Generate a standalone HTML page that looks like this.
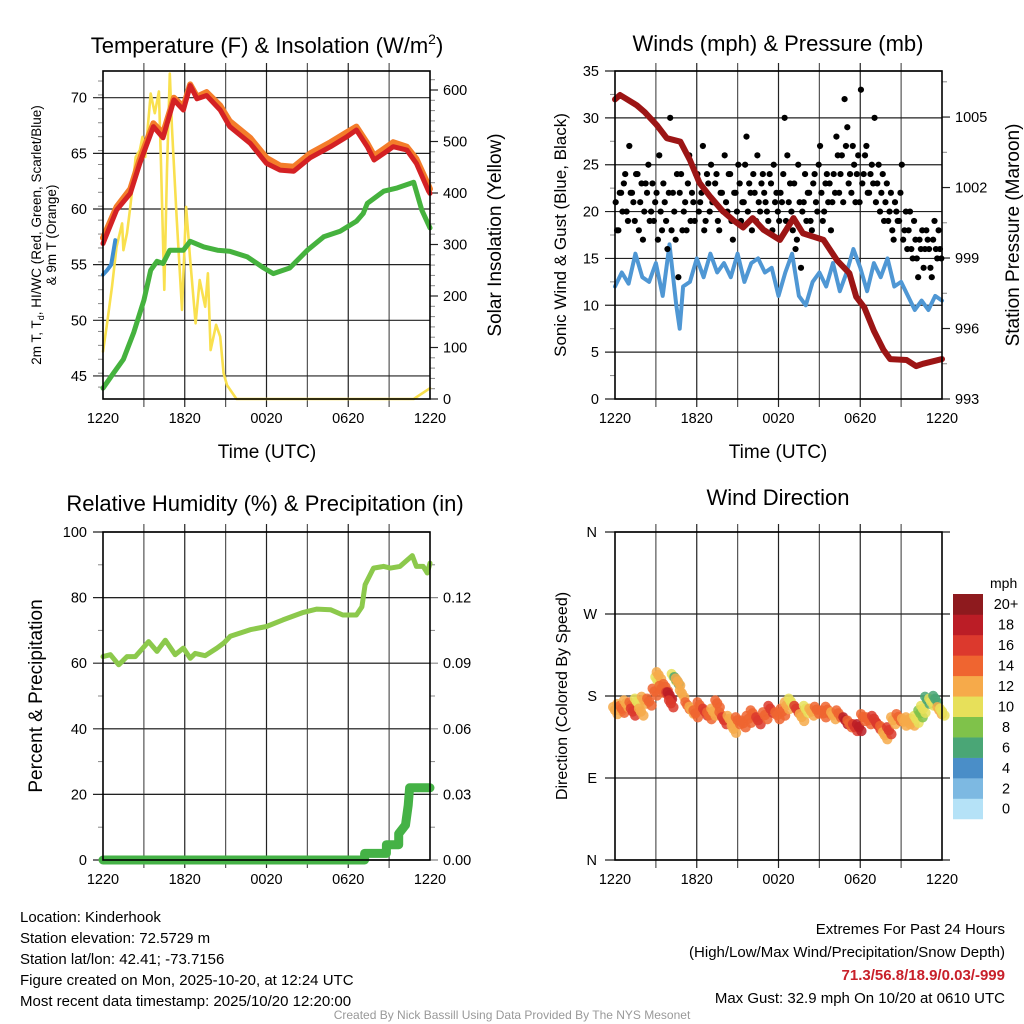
<!DOCTYPE html>
<html><head><meta charset="utf-8"><style>
html,body{margin:0;padding:0;background:#fff}
svg{display:block;font-family:"Liberation Sans",sans-serif}
</style></head><body>
<svg id="chart" width="1024" height="1024" viewBox="0 0 1024 1024">
<g id="g"></g>
<text x="267" y="53" font-size="22" text-anchor="middle">Temperature (F) &amp; Insolation (W/m<tspan font-size="14" dy="-9">2</tspan><tspan dy="9">)</tspan></text>
<text x="778" y="51" font-size="22" text-anchor="middle">Winds (mph) &amp; Pressure (mb)</text>
<text x="265" y="511" font-size="22" text-anchor="middle">Relative Humidity (%) &amp; Precipitation (in)</text>
<text x="778" y="505" font-size="22" text-anchor="middle">Wind Direction</text>
<text x="267" y="458" font-size="19" text-anchor="middle">Time (UTC)</text>
<text x="778" y="458" font-size="19" text-anchor="middle">Time (UTC)</text>
<text font-size="13.5" text-anchor="middle" transform="translate(41,235) rotate(-90)">2m T, T<tspan font-size="9" dy="3">d</tspan><tspan dy="-3">, HI/WC (Red, Green, Scarlet/Blue)</tspan></text>
<text font-size="13.5" text-anchor="middle" transform="translate(56,235) rotate(-90)">&amp; 9m T (Orange)</text>
<text font-size="19" text-anchor="middle" transform="translate(501,235) rotate(-90)">Solar Insolation (Yellow)</text>
<text font-size="17" text-anchor="middle" transform="translate(566,235) rotate(-90)">Sonic Wind &amp; Gust (Blue, Black)</text>
<text font-size="19" text-anchor="middle" transform="translate(1019,235) rotate(-90)">Station Pressure (Maroon)</text>
<text font-size="19" text-anchor="middle" transform="translate(42,696) rotate(-90)">Percent &amp; Precipitation</text>
<text font-size="16" text-anchor="middle" transform="translate(567,696) rotate(-90)">Direction (Colored By Speed)</text>
<text x="990" y="588" font-size="14">mph</text>
<g font-size="15">
<text x="20" y="922">Location: Kinderhook</text>
<text x="20" y="943">Station elevation: 72.5729 m</text>
<text x="20" y="964">Station lat/lon: 42.41; -73.7156</text>
<text x="20" y="985">Figure created on Mon, 2025-10-20, at 12:24 UTC</text>
<text x="20" y="1006">Most recent data timestamp: 2025/10/20 12:20:00</text>
</g>
<g font-size="15" text-anchor="end">
<text x="1005" y="934">Extremes For Past 24 Hours</text>
<text x="1005" y="957">(High/Low/Max Wind/Precipitation/Snow Depth)</text>
<text x="1005" y="980" fill="#c8202a" font-weight="bold">71.3/56.8/18.9/0.03/-999</text>
<text x="1005" y="1003">Max Gust: 32.9 mph On 10/20 at 0610 UTC</text>
</g>
<text x="512" y="1019" font-size="12" fill="#999" text-anchor="middle">Created By Nick Bassill Using Data Provided By The NYS Mesonet</text>
</svg>
<script>
// ---- data (t = hours since 1220 UTC) ----
const xTickLabels=["1220","1820","0020","0620","1220"];
const tempT=[0,1,2,2.7,3.7,4.4,5.2,5.9,6.4,6.9,7.6,8.6,9.3,10.8,12,13,14,15.2,16.7,17.9,18.6,19.4,19.9,20.6,21.3,22.3,23,23.9,24];
const tempV=[56.9,59.9,61.4,64.1,67.4,66.4,69.8,68.9,71.1,69.9,70.2,68.9,67.4,65.9,64.1,63.5,63.4,64.6,65.6,66.5,67.1,65.6,64.4,65.0,65.6,65.3,64.1,61.6,61.4];
const temp9V=[57.4,60.2,61.8,64.5,67.7,66.8,70.0,69.2,71.2,70.1,70.5,69.3,67.9,66.4,64.6,63.9,63.8,65.0,66.0,66.9,67.4,65.9,64.8,65.4,66.0,65.6,64.5,62.1,61.8];
const hiT=[0,0.3,0.6,0.9];
const hiV=[54.1,54.5,55.0,57.2];
const dewT=[0,0.8,1.5,2.25,3,3.5,3.96,4.4,4.9,5.9,6.4,7.4,8.4,9.3,10.6,11.8,12.5,13.7,15,16.2,17.4,18.6,19.1,19.4,20.6,21.6,22.8,23.4,24];
const dewV=[43.9,45.3,46.5,48.9,51.8,54.5,55.3,55.1,56.3,56.3,57.1,56.6,56.3,56.2,55.7,54.7,54.2,54.7,56.3,57.5,58.0,58.9,59.6,60.5,61.6,61.9,62.4,59.9,58.3];
const solT=[0,0.3,0.66,1,1.4,1.5,1.76,2,2.4,2.7,2.9,3.1,3.5,3.8,4.1,4.25,4.5,4.7,4.9,5.06,5.4,5.8,6.1,6.4,6.8,7.1,7.5,7.7,7.9,8.3,8.6,8.85,9.1,9.8,22.8,24];
const solV=[92,147,218,296,341,289,322,373,470,483,509,470,593,555,597,464,212,445,632,529,354,173,373,270,147,231,179,244,95,144,121,50,27,0,0,21];
const presT=[0,0.37,1.6,2.2,3.06,3.8,4.8,5.5,6.2,7,7.9,8.7,9.4,10.1,10.9,12.1,13.1,13.8,15.3,16.3,17.2,17.7,18.3,19,19.7,20.2,21.4,22.1,22.6,24];
const presV=[1005.75,1005.94,1005.5,1005.2,1004.66,1004.1,1003.95,1003.17,1002.2,1001.6,1001.0,1000.6,1000.3,1000.7,1000.2,999.77,1000.7,1000.05,999.77,998.9,998.35,997.35,996.9,995.9,995.1,994.7,994.66,994.4,994.5,994.7];
const windV=[12,13.5,12.3,15.5,13,12.5,14.5,11,16.5,10,7.5,12,12.5,15,13,15.5,13.5,14.5,13,15.5,12.5,14.5,15,13.5,14,11,13.5,15.5,11,10,12.5,13.5,12,14.5,11.5,13.5,16,14,11.5,14.5,13,15,12,12.5,11,9.5,10.5,9.5,11,10.5];
const windT=[0,0.5,1,1.5,2,2.5,3,3.5,4,4.5,4.75,5,5.5,6,6.5,7,7.5,8,8.5,9,9.5,10,10.5,11,11.5,12,12.5,13,13.5,14,14.5,15,15.5,16,16.5,17,17.5,18,18.5,19,19.5,20,20.5,21,21.5,22,22.5,23,23.5,24];
const gustV=[21,18,22,23,20,27,22,19,24,21,17,23,25,20,19,22,26,18,21,16,30,22,17,13,24,20,18,26,22,19,24,21,27,19,23,25,21,24,18,22,26,20,24,17,22,25,19,21,28,23,18,22,26,20,24,21,19,23,25,22,19,21,30,26,23,18,16,25,14,21,19,22,18,24,20,27,19,23,21,18,24,28,22,26,32,29,24,27,21,26,33,24,27,22,25,30,23,20,24,21,19,22,17,20,19,25,18,16,20,15,17,13,16,14,18,16,13,19,15,16];
const gustV2=[18,22,20,24,19,22,21,24,18,23,20,22,19,23,21,17,20,23,19,22,18,20,24,22,18,21,23,19,21,24,20,22,18,24,20,21,23,19,22,20,21,24,19,22,20,23,21,25,20,22,24,19,21,23,22,20,24,18,21,20,22,24,19,21,20,23,17,21,20,24,22,19,23,21,25,22,20,24,23,21,22,26,24,21,27,23,22,25,24,21,23,26,22,24,23,21,25,22,19,23,20,18,21,19,22,17,20,18,16,19,15,17,18,16,17,14,17,16,18,15];
const rhT=[0,0.54,1.15,1.76,2.37,3.35,3.96,4.57,5.3,5.9,6.4,6.77,7.5,8.36,8.85,9.34,10.8,12,13.2,14.7,15.7,16.7,17.6,18.6,19,19.24,19.85,20.6,21.1,21.8,22.7,23,23.5,23.8,24];
const rhV=[62,62.6,59.5,62,62,66.6,63.6,67,62.6,64.6,61.5,63,62.3,64.6,66.1,68.2,70.2,71.2,73.2,75.5,76.5,76.3,74.7,74.7,77.2,83.9,89,89.5,89,89.5,92.8,89.5,89.5,87.5,90.5];
const prT=[0,19.2,19.2,20.8,20.8,21.7,21.7,22.2,22.4,22.5,24];
const prV=[0,0,0.003,0.003,0.007,0.007,0.012,0.016,0.025,0.033,0.033];
const dirT=[0,0.3,0.5,0.8,1.2,1.3,1.6,1.9,2.1,2.5,2.9,3.1,3.2,3.4,3.7,3.9,4.0,4.1,4.3,4.5,4.6,4.9,5.3,5.6,5.9,6.2,6.6,6.9,7.2,7.5,7.8,8.0,8.4,8.7,9.0,9.4,9.8,10.1,10.5,11.0,11.4,11.9,12.3,12.6,12.9,13.3,13.7,14.0,14.4,14.8,15.3,15.6,16.0,16.4,16.9,17.2,17.6,17.9,18.2,18.6,19.0,19.3,19.6,19.8,20.1,20.4,20.8,21.2,21.5,21.8,22.1,22.4,22.6,22.9,23.2,23.5,23.8,24];
const dirV=[164.6,168,166,172,170,163,174,163,176,174,185,197.6,203,188,190,181,181,172,201,197.6,196,183,170,165,161,170,163,159,163,172,159,153.5,155,144,153.5,150,155,161,153.5,159,166,159,163,170,174,166,157,166,163,165,161,165,159,161,153.5,150,146,146,157,153.5,155,148,144,137,142.5,153.5,157,152,153.5,152,155,161,166,176,174,177,164.6,163];
const dirSpd=[12,12,14,13,15,16,11,12,12,14,14,11,12,15,14,16,18,16,10,7,12,12,14,13,15,14,16,14,13,14,14,16,12,13,14,15,14,15,16,14,16,14,15,13,10,17,13,10,12,14,14,15,12,15,18,15,17,18,14,15,16,16,14,12,16,12,14,12,13,12,10,9,10,7,10,7,13,11];
const cbLabels=["0","2","4","6","8","10","12","14","16","18","20+"];
const cbColors=["#b5e2f7","#7db9e2","#4a8ec8","#4aa676","#7fc24a","#e7e05a","#f6aa4a","#ef6530","#dc392d","#bb1d26","#8e1a1e"];

// ---- rendering ----
const NS="http://www.w3.org/2000/svg", G=document.getElementById('g');
function el(tag,at,parent){const e=document.createElementNS(NS,tag);for(const k in at)e.setAttribute(k,at[k]);(parent||G).appendChild(e);return e;}
function txt(s,x,y,anchor,size){const e=el('text',{x:x,y:y,'text-anchor':anchor,'font-size':size});e.textContent=s;return e;}
function panel(x0,x1,y0,y1,lmin,lmax,rmin,rmax){
  return {x0,x1,y0,y1,X:t=>x0+(x1-x0)*t/24,L:v=>y1-(y1-y0)*(v-lmin)/(lmax-lmin),R:v=>y1-(y1-y0)*(v-rmin)/(rmax-rmin)};
}
function frame(p,name){
  for(let h=3;h<24;h+=3){const x=p.X(h);const l=el('line',{x1:x,x2:x,y1:p.y0-8,y2:p.y1+8,stroke:h%6?'#555':'#222','stroke-width':1.2});
    }
  xTickLabels.forEach((s,i)=>{const t=txt(s,p.X(i*6),p.y1+24,'middle',14.5);
    });
}
function border(p,name){const r=el('rect',{x:p.x0,y:p.y0,width:p.x1-p.x0,height:p.y1-p.y0,fill:'none',stroke:'#000','stroke-width':1.6});
  }
function lticks(p,vals,fmt,name,grid,minor){
  if(minor)minor.forEach(v=>{const y=p.L(v);el('line',{x1:p.x0-5,x2:p.x0,y1:y,y2:y,stroke:'#888','stroke-width':1});});
  vals.forEach(v=>{const y=p.L(v);
    const l=el('line',{x1:p.x0-10,x2:grid?p.x1:p.x0,y1:y,y2:y,stroke:'#222','stroke-width':1.2});
    
    const t=txt(fmt(v),p.x0-16,y+5,'end',14.5);});
}
function rticks(p,vals,fmt,name,grid,minor){
  if(minor)minor.forEach(v=>{const y=p.R(v);el('line',{x1:p.x1,x2:p.x1+5,y1:y,y2:y,stroke:'#888','stroke-width':1});});
  vals.forEach(v=>{const y=p.R(v);
    const l=el('line',{x1:grid?p.x0:p.x1,x2:p.x1+8,y1:y,y2:y,stroke:grid?'#888':'#222','stroke-width':1.2});
    
    const t=txt(fmt(v),p.x1+13,y+5,'start',14.5);});
}
function line(p,T,V,Y,color,w,name){
  const d=T.map((t,i)=>(i?'L':'M')+p.X(t).toFixed(1)+','+Y(V[i]).toFixed(1)).join('');
  const e=el('path',{d:d,fill:'none',stroke:color,'stroke-width':w,'stroke-linejoin':'round','stroke-linecap':'round'});
  return e;
}
const rng=(a,b,s)=>{const r=[];for(let v=a;v<=b+1e-9;v+=s)r.push(+v.toFixed(4));return r;};

// Panel 1
const p1=panel(103,430,71,399,42.93,72.4,0,636.9);
frame(p1,'temp');
lticks(p1,rng(45,70,5),v=>v,'temp',true,rng(44,72,1.25).filter(v=>v%5));
rticks(p1,rng(0,600,100),v=>v,'solar',false,rng(0,620,20).filter(v=>v%100));
line(p1,solT,solV,p1.R,'#f9e04e',2.6,'solar-insolation-line');
line(p1,dewT,dewV,p1.L,'#45b23e',5,'dewpoint-line');
line(p1,hiT,hiV,p1.L,'#3e8ed0',4,'heat-index-line');
line(p1,tempT,temp9V,p1.L,'#f47d2a',6,'temp-9m-line');
line(p1,tempT,tempV,p1.L,'#d42124',5,'temp-2m-line');
border(p1,'temp');

// Panel 2
const p2=panel(615,942,71,399,0,35,993,1006.96);
frame(p2,'wind');
lticks(p2,rng(0,35,5),v=>v,'wind',true,rng(2.5,32.5,5));
rticks(p2,rng(993,1005,3),v=>v,'pressure',false,rng(994.5,1006.5,3));
line(p2,windT,windV,p2.L,'#4f97d4',4,'sonic-wind-line');
gustV.forEach((v,i)=>{const c=el('circle',{cx:p2.X(i*0.2+0.05),cy:p2.L(v),r:3.1,fill:'#000'});
  });
gustV2.forEach((v,i)=>{const c=el('circle',{cx:p2.X(i*0.2+0.15),cy:p2.L(v),r:3.1,fill:'#000'});
  });
line(p2,presT,presV,p2.R,'#9c1515',6,'pressure-line');
border(p2,'wind');

// Panel 3
const p3=panel(103,430,532,860,0,100,0,0.15);
frame(p3,'rh');
rticks(p3,rng(0,0.12,0.03),v=>v.toFixed(2),'precip',true,rng(0.015,0.135,0.03));
lticks(p3,rng(0,100,20),v=>v,'rh',true,rng(10,90,20));
line(p3,rhT,rhV,p3.L,'#8cc94c',5,'rh-line');
line(p3,prT,prV,p3.R,'#45b246',9,'precip-line');
border(p3,'rh');

// Panel 4
const p4=panel(615,942,532,860,0,360,0,1);
frame(p4,'dir');
const dirLab=["N","E","S","W","N"];
[0,90,180,270,360].forEach((v,i)=>{const y=p4.L(v);
  const l=el('line',{x1:p4.x0-10,x2:p4.x1+8,y1:y,y2:y,stroke:'#222','stroke-width':1.2});
  
  const t=txt(dirLab[i],p4.x0-18,y+5,'end',14.5);});
dirT.forEach((t,i)=>{const ci=Math.min(10,Math.floor(dirSpd[i]/2));
  const c=el('circle',{cx:p4.X(t),cy:p4.L(dirV[i]),r:5.2,fill:cbColors[ci],'fill-opacity':0.9});
  
  const c2=el('circle',{cx:p4.X(t)+2.5,cy:p4.L(dirV[i])+4,r:5.2,fill:cbColors[ci],'fill-opacity':0.85});
  
  const c3=el('circle',{cx:p4.X(t)-2,cy:p4.L(dirV[i])-3,r:5,fill:cbColors[ci],'fill-opacity':0.85});
  });
border(p4,'dir');
// colorbar
const cbTop=594,cbH=20.45;
cbColors.forEach((c,i)=>{const y=cbTop+(10-i)*cbH;
  const r=el('rect',{x:953,y:y,width:30,height:cbH+0.3,fill:c});
  
  const t=txt(cbLabels[i],1006,y+cbH/2+5,'middle',14.5);
  });
</script>
</body></html>
